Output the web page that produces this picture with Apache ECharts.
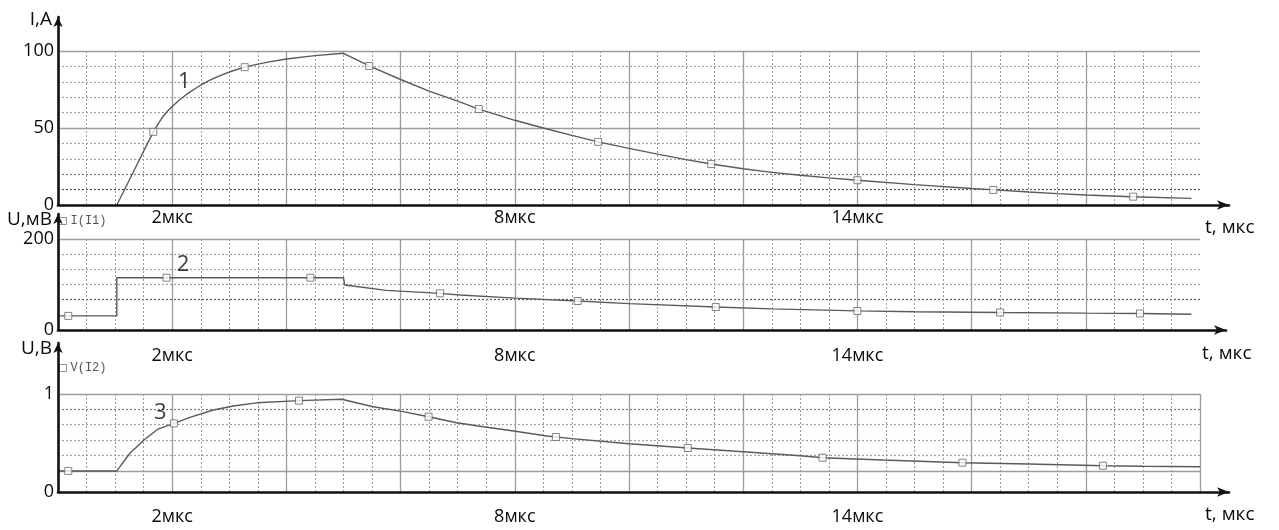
<!DOCTYPE html>
<html><head><meta charset="utf-8">
<script src="https://cdn.jsdelivr.net/npm/echarts@6/dist/echarts.min.js"></script>
<style>html,body{margin:0;padding:0;background:#fff}#c{width:1279px;height:530px}</style>
</head><body><div id="c"></div>
<script>
// ---- time axis (мкс) ----
const tMin = 0, tMax = 20;
const tLabelValues = [2, 8, 14];
const tUnit = 'мкс';
const tName = 't, мкс';

// ---- panel 1: current I, A (curve 1) ----
const iTicks = [0, 50, 100];
const iCurve = [[1.03,0],[1.3,20],[1.5,35],[1.67,47.5],[1.76,53],[1.84,57.5],[1.92,61],[2.0,64],[2.12,68],[2.25,71.8],[2.4,75.5],[2.5,77.8],[2.67,81.2],[2.84,84],[3.05,87],[3.27,89.5],[3.5,91.5],[3.7,92.9],[4.0,94.8],[4.5,97],[5.0,98.5],[5.45,90.3],[6.0,81.5],[6.5,74],[7.0,67.5],[7.37,62.3],[8.0,55],[8.5,50],[9.0,45.2],[9.46,41],[10,36.8],[10.5,33],[11,29.5],[11.44,26.6],[12,23.5],[12.5,21.2],[13,19.3],[13.5,17.6],[14,16.1],[15,13.2],[16,10.7],[16.4,9.8],[17,8.4],[17.5,7.4],[18,6.5],[18.8,5.4],[19.85,4.3]];
const iMarkers = [[1.67,47.5],[3.27,89.5],[5.45,90.3],[7.37,62.3],[9.46,41],[11.44,26.6],[14,16.1],[16.38,9.8],[18.83,5.4]];

// ---- panel 2: voltage U, мВ (curve 2) ----
const mvTicks = [0, 200];
const mvCurve = [[0,31],[1.03,31],[1.03,115],[5.0,115],[5.02,99],[5.75,87],[6.69,80.6],[7.04,77],[8,70],[9.1,63.7],[10,58],[11.52,50.5],[12.5,46.5],[14,42],[15,40.2],[16.5,38.5],[18,37],[18.95,36.3],[19.85,34.5]];
const mvMarkers = [[0.18,31],[1.9,115],[4.42,115],[6.69,80.6],[9.1,63.7],[11.52,50.5],[14,41.8],[16.5,38.5],[18.95,36.3]];

// ---- panel 3: voltage U, В (curve 3) ----
const vTicks = [0, 1];
const vGridLines = [0.215, 0.372, 0.529, 0.686, 0.843, 1.0];
const vCurve = [[0,0.215],[1.03,0.215],[1.26,0.395],[1.52,0.538],[1.76,0.645],[2.03,0.70],[2.31,0.762],[2.72,0.837],[3.07,0.878],[3.48,0.91],[4.22,0.932],[4.97,0.946],[5.52,0.87],[6.02,0.823],[6.49,0.768],[6.98,0.707],[7.45,0.666],[7.98,0.622],[8.56,0.571],[9,0.545],[10,0.492],[11.03,0.449],[12,0.41],[13,0.37],[13.39,0.35],[14.45,0.326],[15.84,0.299],[17,0.285],[18.3,0.268],[19,0.262],[20,0.258]];
const vMarkers = [[0.18,0.215],[2.03,0.70],[4.22,0.932],[6.49,0.768],[8.72,0.561],[11.03,0.449],[13.39,0.35],[15.84,0.299],[18.3,0.268]];

// ---- curve numbers (data coordinates) ----
const curveNumbers = [['1', 2.21, 80], ['2', 2.19, 143], ['3', 1.79, 0.806]];
const yNames = ['I,A', 'U,мВ', 'U,В'];
const legendNames = ['I(I1)', 'V(I2)'];

const FONT = 'Open Sans';
const CURVE = '#5a5a5a', GRID_SOLID = '#9c9c9c', GRID_DOT = '#9a9a9a', AXIS = '#111', TXT = '#0a0a0a';
const T = 'rgba(0,0,0,0)';

const L = 58, W = 1142;
const panels = [
  {top: 51, height: 154, labelMargin: 4, showMax: false},
  {top: 239, height: 91, labelMargin: 17, showMax: false},
  {top: 394, height: 98, labelMargin: 16, showMax: true}
];
const arrows = [
  {top: 17, bottom: 205, right: 1229, nameGapY: -3, xNamePad: 12},
  {top: 214, bottom: 330, right: 1226, nameGapY: -6, xNamePad: 13},
  {top: 343, bottom: 492, right: 1229, nameGapY: -6, xNamePad: 12}
];

const grid = [], xAxis = [], yAxis = [], series = [];
panels.forEach((p, i) => {
  grid.push({left: L, top: p.top, width: W, height: p.height, containLabel: false, outerBoundsMode: 'none'});
  xAxis.push({
    type: 'value', gridIndex: i, position: 'bottom', min: tMin, max: tMax, interval: 2,
    axisLine: {show: false}, axisTick: {show: false},
    axisLabel: {margin: p.labelMargin, fontFamily: FONT, fontSize: 18, color: TXT,
      formatter: v => tLabelValues.indexOf(v) >= 0 ? v + tUnit : ''},
    splitLine: {show: true, showMinLine: false, showMaxLine: p.showMax, lineStyle: {color: GRID_SOLID, width: 1.3}},
    minorTick: {show: false, splitNumber: 4},
    minorSplitLine: {show: true, lineStyle: {color: GRID_DOT, type: [2, 2], width: 1}}
  });
});
arrows.forEach((a, i) => {
  grid.push({left: L, top: a.top, width: a.right - L, height: a.bottom - a.top, containLabel: false, outerBoundsMode: 'none'});
});

const yLabel = {fontFamily: FONT, fontSize: 18, color: TXT, margin: 4};
// panel 1 y axes
yAxis.push({type: 'value', gridIndex: 0, position: 'left', offset: 0, min: iTicks[0], max: iTicks[2], interval: 10,
  axisLine: {show: false}, axisTick: {show: false}, axisLabel: {show: false},
  splitLine: {show: true, lineStyle: {type: [2, 2], width: 1.2, color: [T, '#555', '#777', '#a0a0a0', '#a0a0a0', T, '#a0a0a0', '#a0a0a0', '#a0a0a0', '#a0a0a0', T, T]}}});
yAxis.push({type: 'value', gridIndex: 0, position: 'left', offset: 0, min: iTicks[0], max: iTicks[2], interval: iTicks[1] - iTicks[0],
  axisLine: {show: false}, axisTick: {show: false}, axisLabel: yLabel,
  splitLine: {show: true, showMinLine: false, lineStyle: {color: GRID_SOLID, width: 1.3}}});
// panel 2 y axes
yAxis.push({type: 'value', gridIndex: 1, position: 'left', offset: 0, min: mvTicks[0], max: mvTicks[1], interval: (mvTicks[1] - mvTicks[0]) / 6,
  axisLine: {show: false}, axisTick: {show: false}, axisLabel: {show: false},
  splitLine: {show: true, lineStyle: {type: [2, 2], width: 1.2, color: [T, T, '#555', '#a0a0a0', '#a0a0a0', '#a0a0a0', T, T]}}});
yAxis.push({type: 'value', gridIndex: 1, position: 'left', offset: 0, min: mvTicks[0], max: mvTicks[1], interval: mvTicks[1] - mvTicks[0],
  axisLine: {show: false}, axisTick: {show: false}, axisLabel: yLabel,
  splitLine: {show: true, showMinLine: false, lineStyle: {color: GRID_SOLID, width: 1.3}}});
// panel 3 y axis
yAxis.push({type: 'value', gridIndex: 2, position: 'left', offset: 0, min: vTicks[0], max: vTicks[1], interval: vTicks[1] - vTicks[0],
  axisLine: {show: false}, axisTick: {show: false}, axisLabel: yLabel, splitLine: {show: false}});

// arrow axes
arrows.forEach((a, i) => {
  const line = (sym) => ({show: true, onZero: false, symbol: ['none', 'arrow'], symbolSize: sym,
    lineStyle: {color: AXIS, width: 2.6}});
  xAxis.push({type: 'value', gridIndex: 3 + i, position: 'bottom', min: 0, max: 1, z: 10,
    axisLine: line([7, 12]), axisTick: {show: false}, axisLabel: {show: false}, splitLine: {show: false},
    name: tName, nameLocation: 'end', nameGap: -24,
    nameTextStyle: {fontFamily: FONT, fontSize: 19, color: TXT, align: 'left', verticalAlign: 'top', lineHeight: 22, padding: [a.xNamePad, 0, 0, 0]}});
  yAxis.push({type: 'value', gridIndex: 3 + i, position: 'left', offset: 0, min: 0, max: 1, z: 10,
    axisLine: line([7, 10]), axisTick: {show: false}, axisLabel: {show: false}, splitLine: {show: false},
    name: yNames[i], nameLocation: 'end', nameGap: a.nameGapY,
    nameTextStyle: {fontFamily: FONT, fontSize: 19, color: TXT, align: 'right', verticalAlign: 'middle', padding: [0, 6, 0, 0]}});
});

const markerStyle = {color: '#fff', borderColor: '#666', borderWidth: 1};
const panelData = [
  {curve: iCurve, markers: iMarkers, yIdx: 1, name: legendNames[0]},
  {curve: mvCurve, markers: mvMarkers, yIdx: 3, name: 'U2'},
  {curve: vCurve, markers: vMarkers, yIdx: 4, name: legendNames[1]}
];
panelData.forEach((d, i) => {
  const s = {type: 'line', xAxisIndex: i, yAxisIndex: d.yIdx, data: d.curve, symbol: 'none', z: 3,
    lineStyle: {color: CURVE, width: 1.4}, silent: true};
  if (i === 2) {
    s.markLine = {silent: true, symbol: ['none', 'none'], z: 1, label: {show: false}, animation: false,
      data: vGridLines.map((v, k) => ({yAxis: v, lineStyle: (k === 0 || k === vGridLines.length - 1)
        ? {color: GRID_SOLID, width: 1.3, type: 'solid'} : {color: k === 4 ? '#777' : '#a0a0a0', width: 1.2, type: [2, 2]}}))};
  }
  series.push(s);
  series.push({type: 'scatter', name: d.name, xAxisIndex: i, yAxisIndex: d.yIdx, data: d.markers,
    symbol: 'rect', symbolSize: 7, itemStyle: markerStyle, z: 4});
  series.push({type: 'scatter', xAxisIndex: i, yAxisIndex: d.yIdx, z: 5, silent: true,
    data: [[curveNumbers[i][1], curveNumbers[i][2]]], symbolSize: 1, itemStyle: {color: T},
    label: {show: true, position: 'inside', formatter: curveNumbers[i][0], fontFamily: FONT, fontSize: 22, color: TXT}});
});

const legendCommon = {padding: 0, itemWidth: 7, itemHeight: 7, icon: 'rect', selectedMode: false,
  itemStyle: {color: '#fff', borderColor: '#777', borderWidth: 1},
  textStyle: {fontFamily: 'Liberation Mono', fontSize: 12, color: '#555', padding: [0, 0, 0, -1]}};
const option = {
  animation: false,
  backgroundColor: '#fff',
  grid, xAxis, yAxis, series,
  legend: [
    Object.assign({data: [legendNames[0]], left: 59, top: 215}, legendCommon),
    Object.assign({data: [legendNames[1]], left: 59, top: 362}, legendCommon)
  ]
};
const chart = echarts.init(document.getElementById('c'));
chart.setOption(option);
</script>
</body></html>
